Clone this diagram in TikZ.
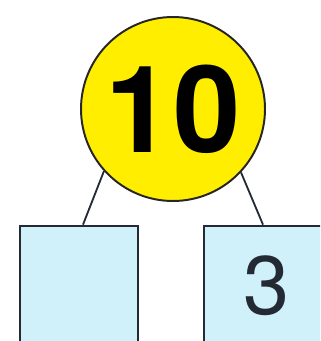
\documentclass[tikz,border=0pt]{standalone}
\usepackage{fontspec}
\setmainfont{TeX Gyre Heros}
\usepackage{xcolor}
\usetikzlibrary{positioning}
\definecolor{sunyellow}{RGB}{255,238,0}
\definecolor{iceblue}{RGB}{208,240,250}
\definecolor{inkline}{RGB}{35,42,52}

\begin{document}
\begin{tikzpicture}[
  x=0.05cm, y=-0.05cm,
  whole/.style={circle, draw=black!85, line width=2.8pt, fill=sunyellow,
                minimum size=9.2cm, inner sep=0pt,
                font=\fontsize{172}{172}\bfseries\selectfont},
  part/.style={rectangle, draw=inkline, line width=3.8pt, fill=iceblue,
               minimum width=5.9cm, minimum height=6.5cm, inner sep=0pt},
  digit/.style={font=\fontsize{118}{118}\selectfont, text=inkline, inner sep=0pt},
  link/.style={draw=inkline, line width=2.6pt}
]
\useasboundingbox (0,0) rectangle (320,341);
\clip (0,0) rectangle (320,341);
\node[part] (left)  at (79,291)  {};
\node[part] (right) at (263,291) {};
\node[digit] (three) at (267,286) {3};
\node[whole] (ten) at (173,109) {10};

\draw[link] (ten.222) -- ([xshift=0.2cm]left.north);
\draw[link] (ten.317) -- ([xshift=0.0cm]right.north);
\end{tikzpicture}
\end{document}
